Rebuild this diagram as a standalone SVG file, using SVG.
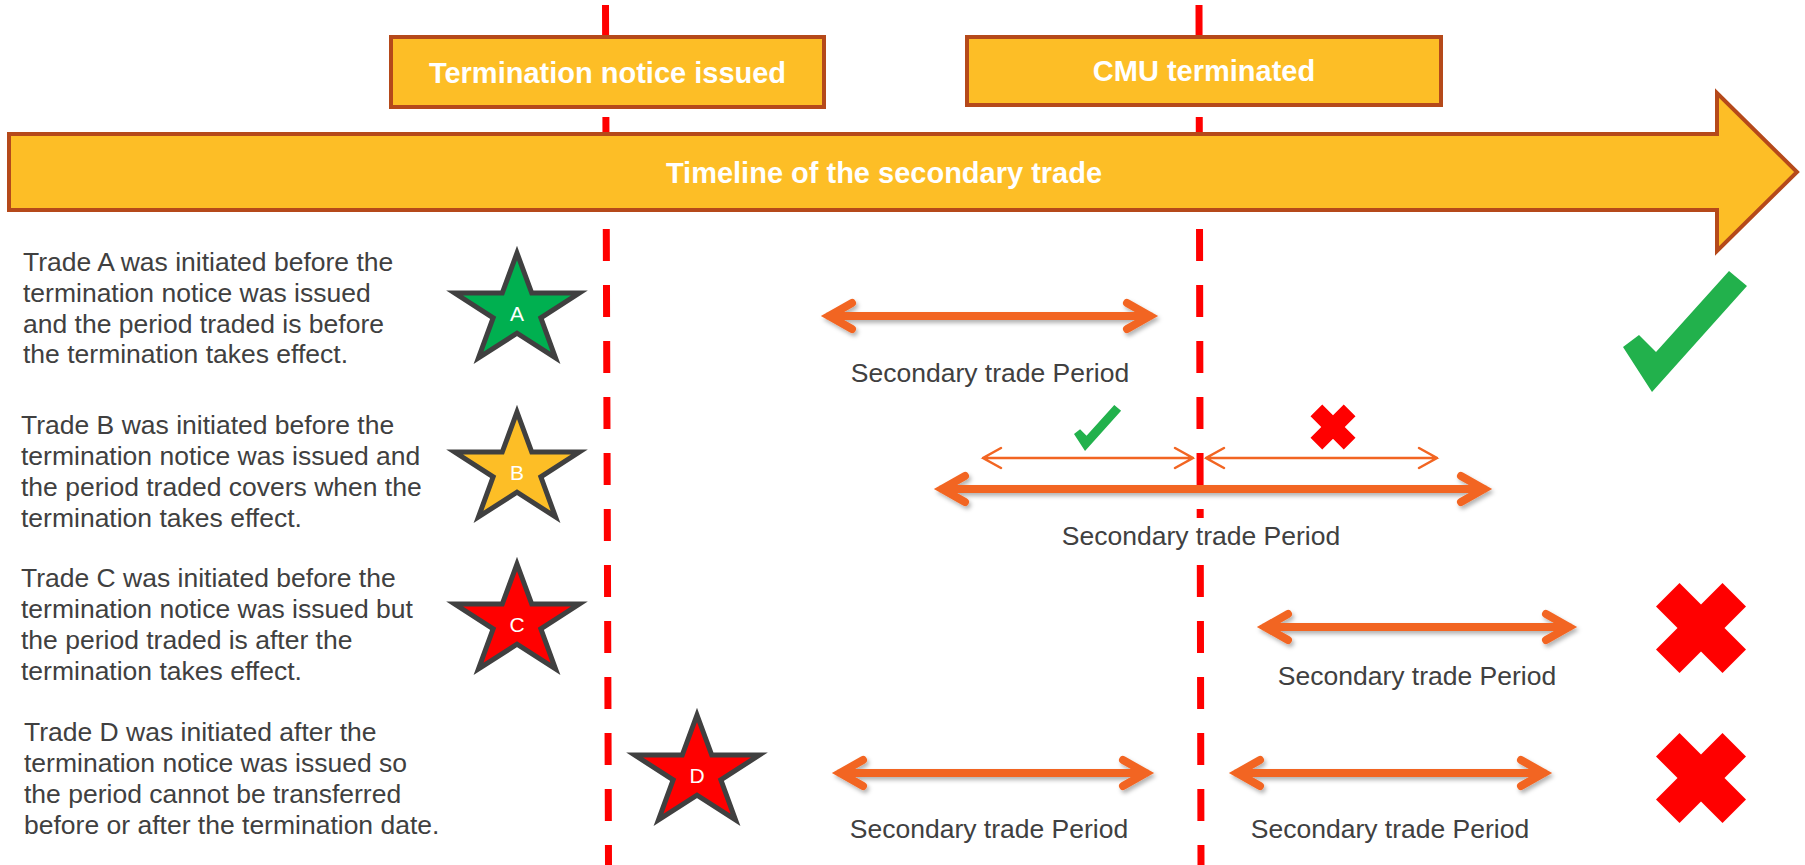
<svg xmlns="http://www.w3.org/2000/svg" xmlns:xlink="http://www.w3.org/1999/xlink" width="1805" height="865" viewBox="0 0 1805 865">
<style>
.t{font-family:"Liberation Sans",Arial,Helvetica,sans-serif;font-size:26.5px;fill:#404040}
.lbl{font-family:"Liberation Sans",Arial,Helvetica,sans-serif;font-size:26.5px;fill:#404040;text-anchor:middle}
.hd{font-family:"Liberation Sans",Arial,Helvetica,sans-serif;font-size:29px;font-weight:bold;fill:#FFFFFF;text-anchor:middle}
.sl{font-family:"Liberation Sans",Arial,Helvetica,sans-serif;font-size:21px;fill:#FFFFFF;text-anchor:middle}
.box{fill:#FDBE26;stroke:#B5491A;stroke-width:4}
.red{stroke:#FF0000;stroke-width:7;stroke-dasharray:32 24;fill:none}
.arr{fill:none;stroke:#F26522;stroke-width:8;stroke-linecap:round;stroke-linejoin:miter}
.thin{fill:none;stroke:#F26522;stroke-width:2.5;stroke-linecap:round;stroke-linejoin:miter}
.star{stroke:#404040;stroke-width:5;stroke-linejoin:miter}
.ok{fill:#22B14C}
.no{fill:#FF0000}
</style>
<defs>
<filter id="sh" x="-10%" y="-50%" width="120%" height="200%">
<feDropShadow dx="2" dy="3" stdDeviation="2" flood-color="#000000" flood-opacity="0.3"/>
</filter>
<path id="starShape" d="M0,-58 L14.75,-17.96 L62.33,-17.92 L23.85,6.86 L38.52,46.92 L0,22.2 L-38.52,46.92 L-23.85,6.86 L-62.33,-17.92 L-14.75,-17.96 Z"/>
<path id="xShape" d="M0,-23.5 L21.5,-45 L45,-21.5 L23.5,0 L45,21.5 L21.5,45 L0,23.5 L-21.5,45 L-45,21.5 L-23.5,0 L-45,-21.5 L-21.5,-45 Z"/>
<path id="checkShape" d="M0,76 L16,64 L33,81 L106,0 L124,15 L29,121 Z"/>
</defs>
<rect x="0" y="0" width="1805" height="865" fill="#FFFFFF"/>

<g id="markers-lines">
<line class="red" x1="605.5" y1="5" x2="608.5" y2="865"/>
<line class="red" x1="1199" y1="5" x2="1201" y2="865"/>
</g>

<g id="box-termination-notice">
<rect class="box" x="391" y="37" width="433" height="70"/>
<text class="hd" x="607.5" y="83">Termination notice issued</text>
</g>
<g id="box-cmu-terminated">
<rect class="box" x="967" y="37" width="474" height="68"/>
<text class="hd" x="1204" y="81">CMU terminated</text>
</g>

<g id="timeline">
<path class="box" d="M9,134 L1717,134 L1717,93 L1797,172 L1717,251 L1717,210 L9,210 Z"/>
<text class="hd" x="884" y="183">Timeline of the secondary trade</text>
</g>

<g id="trade-a-text">
<text class="t" x="23" y="271">Trade A was initiated before the</text>
<text class="t" x="23" y="302">termination notice was issued</text>
<text class="t" x="23" y="333">and the period traded is before</text>
<text class="t" x="23" y="363">the termination takes effect.</text>
</g>
<g id="trade-b-text">
<text class="t" x="21" y="434">Trade B was initiated before the</text>
<text class="t" x="21" y="465">termination notice was issued and</text>
<text class="t" x="21" y="496">the period traded covers when the</text>
<text class="t" x="21" y="527">termination takes effect.</text>
</g>
<g id="trade-c-text">
<text class="t" x="21" y="587">Trade C was initiated before the</text>
<text class="t" x="21" y="618">termination notice was issued but</text>
<text class="t" x="21" y="649">the period traded is after the</text>
<text class="t" x="21" y="680">termination takes effect.</text>
</g>
<g id="trade-d-text">
<text class="t" x="24" y="741">Trade D was initiated after the</text>
<text class="t" x="24" y="772">termination notice was issued so</text>
<text class="t" x="24" y="803">the period cannot be transferred</text>
<text class="t" x="24" y="834">before or after the termination date.</text>
</g>

<g id="star-a">
<use xlink:href="#starShape" href="#starShape" class="star" fill="#00B050" transform="translate(517,311)"/>
<text class="sl" x="517" y="321">A</text>
</g>
<g id="star-b">
<use xlink:href="#starShape" href="#starShape" class="star" fill="#FDBE26" transform="translate(517,470)"/>
<text class="sl" x="517" y="480">B</text>
</g>
<g id="star-c">
<use xlink:href="#starShape" href="#starShape" class="star" fill="#FF0000" transform="translate(517,622)"/>
<text class="sl" x="517" y="632">C</text>
</g>
<g id="star-d">
<use xlink:href="#starShape" href="#starShape" class="star" fill="#FF0000" transform="translate(697,773)"/>
<text class="sl" x="697" y="783">D</text>
</g>

<g id="connectors">
<path class="arr" filter="url(#sh)" d="M852,303 L829,316 L852,329 M829,316 L1150,316 M1127,303 L1150,316 L1127,329"/>
<path class="arr" filter="url(#sh)" d="M965,476 L942,489 L965,502 M942,489 L1484,489 M1461,476 L1484,489 L1461,502"/>
<path class="thin" d="M1001,448 L983,458 L1001,468 M983,458 L1193,458 M1175,448 L1193,458 L1175,468"/>
<path class="thin" d="M1224,448 L1206,458 L1224,468 M1206,458 L1437,458 M1419,448 L1437,458 L1419,468"/>
<path class="arr" filter="url(#sh)" d="M1288,614 L1265,627 L1288,640 M1265,627 L1569,627 M1546,614 L1569,627 L1546,640"/>
<path class="arr" filter="url(#sh)" d="M863,760 L840,773 L863,786 M840,773 L1146,773 M1123,760 L1146,773 L1123,786"/>
<path class="arr" filter="url(#sh)" d="M1260,760 L1237,773 L1260,786 M1237,773 L1544,773 M1521,760 L1544,773 L1521,786"/>
</g>

<g id="period-labels">
<text class="lbl" x="990" y="382">Secondary trade Period</text>
<rect x="1058" y="518" width="286" height="36" fill="#FFFFFF"/>
<text class="lbl" x="1201" y="545">Secondary trade Period</text>
<text class="lbl" x="1417" y="685">Secondary trade Period</text>
<text class="lbl" x="989" y="838">Secondary trade Period</text>
<text class="lbl" x="1390" y="838">Secondary trade Period</text>
</g>

<g id="outcomes">
<use xlink:href="#checkShape" href="#checkShape" class="ok" transform="translate(1623,271)"/>
<use xlink:href="#checkShape" href="#checkShape" class="ok" transform="translate(1074,405) scale(0.38)"/>
<use xlink:href="#xShape" href="#xShape" class="no" transform="translate(1333,427) scale(0.5)"/>
<use xlink:href="#xShape" href="#xShape" class="no" transform="translate(1701,628)"/>
<use xlink:href="#xShape" href="#xShape" class="no" transform="translate(1701,778)"/>
</g>
</svg>
